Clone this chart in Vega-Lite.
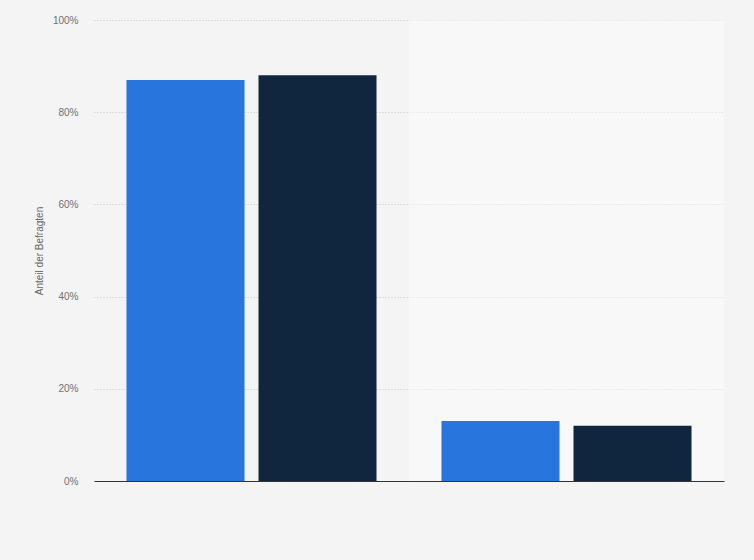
{
  "$schema": "https://vega.github.io/schema/vega-lite/v6.json",
  "width": 630,
  "height": 461,
  "autosize": {"type": "none"},
  "padding": {"left": 94, "top": 20, "right": 30, "bottom": 79},
  "background": "#f4f4f4",
  "config": {
    "view": {"stroke": null},
    "font": "Liberation Sans"
  },
  "datasets": {
    "bars": [
      {"gruppe": "A", "serie": "1", "anteil": 0.87},
      {"gruppe": "A", "serie": "2", "anteil": 0.88},
      {"gruppe": "B", "serie": "1", "anteil": 0.13},
      {"gruppe": "B", "serie": "2", "anteil": 0.12}
    ],
    "bands": [
      {"gruppe": "A", "top": 1, "deckung": 0},
      {"gruppe": "B", "top": 1, "deckung": 0.4}
    ]
  },
  "layer": [
    {
      "data": {"name": "bands"},
      "mark": {"type": "bar", "color": "#ffffff"},
      "encoding": {
        "x": {"field": "gruppe", "type": "nominal", "scale": {"paddingInner": 0, "paddingOuter": 0}},
        "y": {"field": "top", "type": "quantitative"},
        "opacity": {"field": "deckung", "type": "quantitative", "scale": null, "legend": null}
      }
    },
    {
      "data": {"name": "bars"},
      "mark": {"type": "bar"},
      "encoding": {
        "x": {
          "field": "gruppe",
          "type": "nominal",
          "scale": {"paddingInner": 0, "paddingOuter": 0},
          "axis": {
            "title": null,
            "labels": false,
            "ticks": false,
            "domainColor": "#333333",
            "domainWidth": 1
          }
        },
        "xOffset": {
          "field": "serie",
          "type": "nominal",
          "scale": {"paddingInner": 0.106, "paddingOuter": 0.246}
        },
        "y": {
          "field": "anteil",
          "type": "quantitative",
          "scale": {"domain": [0, 1]},
          "axis": {
            "title": "Anteil der Befragten",
            "titleFontSize": 10,
            "titleFontWeight": "normal",
            "titleColor": "#666666",
            "titlePadding": 8,
            "format": ".0%",
            "values": [0, 0.2, 0.4, 0.6, 0.8, 1],
            "labelFontSize": 10,
            "labelColor": "#707070",
            "labelPadding": 16,
            "ticks": false,
            "domain": false,
            "grid": true,
            "gridColor": "#c8c8c8",
            "gridDash": [1, 2],
            "gridWidth": 1
          }
        },
        "color": {
          "field": "serie",
          "type": "nominal",
          "scale": {"domain": ["1", "2"], "range": ["#2876dd", "#10263e"]},
          "legend": null
        }
      }
    }
  ]
}
